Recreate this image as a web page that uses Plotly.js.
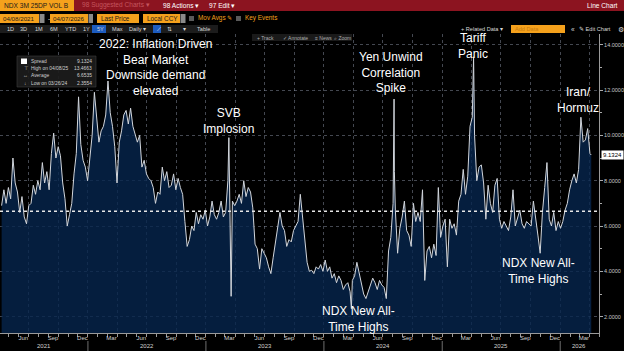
<!DOCTYPE html>
<html><head><meta charset="utf-8">
<script src="https://cdn.plot.ly/plotly-3.0.1.min.js"></script>
<style>html,body{margin:0;padding:0;background:#000;overflow:hidden}#chart{width:624px;height:351px}</style>
</head><body><div id="chart"></div>
<script>
// ---------------- DATA ----------------
const dates = [
'2021-04-09','2021-04-16','2021-04-23','2021-04-30','2021-05-07','2021-05-14','2021-05-21','2021-05-28',
'2021-06-04','2021-06-11','2021-06-18','2021-06-25','2021-07-02','2021-07-09','2021-07-16','2021-07-23','2021-07-30',
'2021-08-06','2021-08-13','2021-08-20','2021-08-27','2021-09-03','2021-09-10','2021-09-17','2021-09-24',
'2021-10-01','2021-10-08','2021-10-15','2021-10-22','2021-10-29','2021-11-05','2021-11-12','2021-11-19','2021-11-26',
'2021-12-03','2021-12-10','2021-12-17','2021-12-24','2021-12-31',
'2022-01-07','2022-01-14','2022-01-21','2022-01-28','2022-02-04','2022-02-11','2022-02-18','2022-02-25',
'2022-03-04','2022-03-11','2022-03-18','2022-03-25','2022-04-01','2022-04-08','2022-04-15','2022-04-22','2022-04-29',
'2022-05-06','2022-05-13','2022-05-20','2022-05-27','2022-06-03','2022-06-10','2022-06-17','2022-06-24',
'2022-07-01','2022-07-08','2022-07-15','2022-07-22','2022-07-29','2022-08-05','2022-08-12','2022-08-19','2022-08-26',
'2022-09-02','2022-09-09','2022-09-16','2022-09-23','2022-09-30','2022-10-07','2022-10-14','2022-10-21','2022-10-28',
'2022-11-04','2022-11-11','2022-11-18','2022-11-25','2022-12-02','2022-12-09','2022-12-16','2022-12-23','2022-12-30',
'2023-01-06','2023-01-13','2023-01-20','2023-01-27','2023-02-03','2023-02-10','2023-02-17','2023-02-24',
'2023-03-03','2023-03-10','2023-03-13','2023-03-17','2023-03-20','2023-03-24','2023-03-31',
'2023-04-07','2023-04-14','2023-04-21','2023-04-28','2023-05-05','2023-05-12','2023-05-19','2023-05-26',
'2023-06-02','2023-06-09','2023-06-16','2023-06-23','2023-06-30','2023-07-07','2023-07-14','2023-07-21','2023-07-28',
'2023-08-04','2023-08-11','2023-08-18','2023-08-25','2023-09-01','2023-09-08','2023-09-15','2023-09-22','2023-09-29',
'2023-10-06','2023-10-13','2023-10-20','2023-10-27','2023-11-03','2023-11-10','2023-11-17','2023-11-24',
'2023-12-01','2023-12-08','2023-12-15','2023-12-22','2023-12-29',
'2024-01-05','2024-01-12','2024-01-19','2024-01-26','2024-02-02','2024-02-09','2024-02-16','2024-02-23',
'2024-03-01','2024-03-08','2024-03-15','2024-03-22','2024-03-26','2024-03-29','2024-04-05','2024-04-12','2024-04-19','2024-04-26',
'2024-05-03','2024-05-10','2024-05-17','2024-05-24','2024-05-31','2024-06-07','2024-06-14','2024-06-21','2024-06-28',
'2024-07-05','2024-07-12','2024-07-19','2024-07-26','2024-08-02','2024-08-05','2024-08-06','2024-08-09','2024-08-16','2024-08-23','2024-08-30',
'2024-09-06','2024-09-13','2024-09-20','2024-09-27','2024-10-04','2024-10-11','2024-10-18','2024-10-25',
'2024-11-01','2024-11-08','2024-11-15','2024-11-22','2024-11-29','2024-12-06','2024-12-13','2024-12-20','2024-12-27',
'2025-01-03','2025-01-10','2025-01-17','2025-01-24','2025-01-31','2025-02-07','2025-02-14','2025-02-21','2025-02-28',
'2025-03-07','2025-03-14','2025-03-21','2025-03-28','2025-04-04','2025-04-08','2025-04-11','2025-04-18','2025-04-25',
'2025-05-02','2025-05-09','2025-05-16','2025-05-23','2025-05-30','2025-06-06','2025-06-13','2025-06-20','2025-06-27',
'2025-07-04','2025-07-11','2025-07-18','2025-07-25','2025-08-01','2025-08-08','2025-08-15','2025-08-22','2025-08-29',
'2025-09-05','2025-09-12','2025-09-19','2025-09-26','2025-10-03','2025-10-10','2025-10-17','2025-10-24','2025-10-31',
'2025-11-07','2025-11-14','2025-11-21','2025-11-28','2025-12-05','2025-12-12','2025-12-19','2025-12-26',
'2026-01-02','2026-01-09','2026-01-16','2026-01-23','2026-01-30','2026-02-06','2026-02-13','2026-02-20','2026-02-27',
'2026-03-06','2026-03-13','2026-03-20','2026-03-27','2026-04-03','2026-04-07'
];
const spread = [
6.9,7.6,7.0,7.7,7.2,9.0,7.9,7.5,
6.6,7.3,6.4,6.1,6.9,7.0,7.8,7.4,8.0,
7.6,8.8,7.9,8.4,7.6,9.2,10.1,9.0,
9.5,9.1,7.9,7.2,6.0,6.5,7.0,8.3,9.2,
11.7,9.6,8.9,8.6,8.0,
9.1,10.0,11.9,10.6,9.7,10.2,10.4,10.9,
12.4,11.0,10.4,9.5,7.9,9.7,10.2,10.9,11.1,
10.5,11.2,10.4,10.0,9.7,10.0,8.6,8.9,
8.3,8.1,8.0,7.7,7.0,7.5,7.4,8.6,8.0,
8.4,7.7,7.8,8.3,7.6,8.1,7.7,7.4,6.2,
5.1,5.4,6.0,5.8,6.6,6.1,6.5,6.3,6.7,
6.0,6.4,7.1,6.5,6.3,6.6,7.1,6.4,
6.6,8.0,9.9,6.5,2.9,7.1,6.9,
7.1,7.4,7.0,8.0,7.3,7.7,7.5,6.8,
5.2,5.0,4.1,5.0,4.8,4.6,4.2,3.9,4.6,
5.3,5.8,6.6,6.0,5.8,5.1,5.4,5.3,5.8,
6.0,6.2,7.4,6.3,5.3,4.4,4.0,4.05,
3.9,4.2,4.1,4.3,4.0,
4.5,4.0,4.2,3.7,3.9,3.5,3.8,3.6,
3.2,3.4,3.5,3.1,2.3554,3.6,3.8,4.4,3.9,3.5,
3.0,2.8,3.1,3.3,3.7,3.5,3.2,3.6,3.4,
3.3,2.8,4.9,5.5,7.0,11.6,8.4,6.7,4.8,5.9,6.4,
7.1,5.8,5.6,5.1,7.0,6.2,6.6,6.2,
7.6,3.6,4.9,5.1,4.6,5.2,4.7,7.7,5.5,
6.0,6.3,4.2,6.3,5.9,6.1,5.6,7.1,7.4,
8.5,7.4,8.2,10.4,10.8,13.4663,10.0,8.0,8.6,
8.7,7.9,6.3,7.8,7.0,6.6,7.8,8.1,6.3,
5.9,6.2,6.0,5.8,6.4,7.6,6.0,6.3,6.7,
6.1,5.9,6.2,6.1,6.0,7.1,6.2,5.6,4.8,
6.6,7.7,8.8,6.3,6.0,6.6,5.8,6.2,
5.9,6.2,6.7,7.0,7.6,8.0,8.3,7.9,8.5,
10.8,9.7,9.8,10.3,9.2,9.1324
];
const seriesName = 'Spread';
const lastValue = 9.1324;
const averageValue = 6.6535;
const highValue = 13.4663, highDate = '04/08/25';
const lowValue = 2.3554, lowDate = '03/26/24';
const yTicks = [2,4,6,8,10,12,14];
const monthTickDates = ['2021-06-15','2021-09-15','2021-12-15','2022-03-15','2022-06-15','2022-09-15','2022-12-15',
  '2023-03-15','2023-06-15','2023-09-15','2023-12-15','2024-03-15','2024-06-15','2024-09-15','2024-12-15',
  '2025-03-15','2025-06-15','2025-09-15','2025-12-15','2026-03-15'];
const monthTickText = ['Jun','Sep','Dec','Mar','Jun','Sep','Dec','Mar','Jun','Sep','Dec','Mar','Jun','Sep','Dec','Mar','Jun','Sep','Dec','Mar'];
const quarterStarts = ['2021-07-01','2021-10-01','2022-01-01','2022-04-01','2022-07-01','2022-10-01','2023-01-01',
  '2023-04-01','2023-07-01','2023-10-01','2024-01-01','2024-04-01','2024-07-01','2024-10-01','2025-01-01',
  '2025-04-01','2025-07-01','2025-10-01','2026-01-01','2026-04-01'];
const yearLabels = ['2021','2022','2023','2024','2025','2026'];
const yearStarts = ['2022-01-01','2023-01-01','2024-01-01','2025-01-01','2026-01-01'];
const xRange = ['2021-04-04','2026-05-01'];
const yRange = [1.281, 14.472];

// ---------------- LAYOUT HELPERS ----------------
const W = 599, T = 34, B = 333;
const F = 'Liberation Sans, Arial, sans-serif';
const px = x => x / W;
const py = y => (B - y) / (B - T);
const shapes = [], annos = [];
function rect(x0, y0, x1, y1, fill, line) {
  shapes.push({type:'rect', xref:'paper', yref:'paper', x0:px(x0), x1:px(x1), y0:py(y1), y1:py(y0),
    fillcolor:fill, line: line ? {color:line, width:0.6} : {width:0}, layer:'above'});
}
function txt(x, y, text, size, color, anchor, extra) {
  annos.push(Object.assign({xref:'paper', yref:'paper', x:px(x), y:py(y), text:text, showarrow:false,
    xanchor:anchor || 'left', yanchor:'middle', font:{family:F, size:size, color:color}}, extra || {}));
}

// toolbar row 1
rect(0, 0, 624, 11, '#8c1420');
rect(0, 0, 74, 11, '#f5a11c');
txt(1.5, 5.5, 'NDX 3M 25DP VOL B', 6.6, '#1a1a1a');
txt(80, 5.5, '98 Suggested Charts ▾', 6.6, '#c4545e');
txt(161, 5.5, '98 Actions ▾', 6.6, '#ffffff');
txt(207, 5.5, '97 Edit ▾', 6.6, '#ffffff');
txt(620, 5.5, 'Line Chart', 6.6, '#ffffff', 'right');
// toolbar row 2
rect(0, 14, 39, 23, '#f5a11c'); rect(39.5, 14, 44.5, 23, '#8a8a8a');
txt(1, 18.5, '04/08/2021', 6.2, '#1a1a1a');
txt(46, 18.5, '-', 6.5, '#dddddd');
rect(50, 14, 88, 23, '#f5a11c'); rect(88.5, 14, 93, 23, '#8a8a8a');
txt(51, 18.5, '04/07/2026', 6.2, '#1a1a1a');
rect(97, 14, 139, 23, '#f5a11c'); txt(99, 18.5, 'Last Price', 6.4, '#1a1a1a');
rect(143, 14, 180, 23, '#f5a11c'); txt(145, 18.5, 'Local CCY', 6.4, '#1a1a1a');
rect(180.5, 14, 185.5, 23, '#8a8a8a');
rect(189, 16, 194, 21, '#5a5a5a'); txt(196, 18.5, 'Mov Avgs ✎', 6.4, '#f5a11c');
rect(236, 16, 241, 21, '#5a5a5a'); txt(243, 18.5, 'Key Events', 6.4, '#f5a11c');
// toolbar row 3
rect(0, 25, 218, 33, '#1c1c1c');
rect(92, 25, 106, 33, '#1d5cc0');
rect(153, 25, 161, 33, '#1d5cc0');
[['1D',5],['3D',18],['1M',33],['6M',48],['YTD',63],['1Y',81],['5Y',95],['Max',110],['Daily ▾',127],['⇅',165],['▾',181],['Table',195]]
  .forEach(d => txt(d[1], 29, d[0], 5.6, '#d8d8d8'));
txt(154.5, 29, '⟋', 5.6, '#ffffff');
txt(459, 29, '+ Related Data ▾', 5.6, '#d8d8d8');
rect(511, 25, 565, 33, '#f5a11c'); txt(513, 29, 'Add Data', 5.6, '#c87c10');
txt(569, 29, '«', 6.5, '#d8d8d8');
txt(577, 29, '✎ Edit Chart', 5.6, '#d8d8d8');
txt(616, 29, '⚙', 7, '#d8d8d8');
// toolbar row 4 (over plot)
rect(252, 34, 352, 41, '#1a1a1a');
txt(255, 37.5, '+ Track', 5, '#b0b0b0');
txt(281, 37.5, '✓ Annotate', 5, '#b0b0b0');
txt(313, 37.5, '≡ News', 5, '#b0b0b0');
txt(332, 37.5, '⌕ Zoom', 5, '#b0b0b0');

// legend box
rect(17, 56, 96, 87, 'rgba(28,28,28,0.92)', '#3c3c3c');
rect(21, 58.5, 27, 64, '#ffffff');
const LF = 4.9;
txt(29, 61, seriesName, LF, '#d0d0d0');
txt(94, 61, lastValue.toFixed(4), LF, '#d0d0d0', 'right');
txt(21.5, 68, '⊤', LF, '#d0d0d0');
txt(29, 68, 'High on ' + highDate, LF, '#d0d0d0');
txt(94, 68, highValue.toFixed(4), LF, '#d0d0d0', 'right');
txt(20.5, 75.5, '↔', LF, '#d0d0d0');
txt(29, 75.5, 'Average', LF, '#d0d0d0');
txt(94, 75.5, averageValue.toFixed(4), LF, '#d0d0d0', 'right');
txt(21.5, 83, '↓', LF, '#d0d0d0');
txt(29, 83, 'Low on ' + lowDate, LF, '#d0d0d0');
txt(94, 83, lowValue.toFixed(4), LF, '#d0d0d0', 'right');

// event labels
const ev = (x, y, t) => txt(x, y, t, 12, '#ffffff', 'center');
ev(155, 67.5, '2022: Inflation Driven<br>Bear Market<br>Downside demand<br>elevated');
ev(228, 120.5, 'SVB<br>Implosion');
ev(391, 72.5, 'Yen Unwind<br>Correlation<br>Spike');
ev(473, 46, 'Tariff<br>Panic');
ev(578, 100, 'Iran/<br>Hormuz');
ev(358, 319, 'NDX New All-<br>Time Highs');
ev(538, 270.5, 'NDX New All-<br>Time Highs');

// last value tag
annos.push({xref:'paper', yref:'y', x:px(601), y:lastValue, text:lastValue.toFixed(4), showarrow:false,
  xanchor:'left', yanchor:'middle', bgcolor:'#ffffff', borderpad:1,
  font:{family:F, size:6, color:'#000000'}});

// average line
shapes.push({type:'line', xref:'paper', yref:'y', x0:0, x1:px(597), y0:averageValue, y1:averageValue,
  line:{color:'#e6e6e6', width:1.5, dash:'dot'}, layer:'above'});

// year separators & labels
yearStarts.forEach(d => shapes.push({type:'line', xref:'x', yref:'paper', x0:d, x1:d, y0:py(341), y1:py(351),
  line:{color:'#8a8a8a', width:0.8}}));
const t0 = new Date(xRange[0]).getTime();
yearLabels.forEach(yl => {
  const a = Math.max(new Date(yl + '-01-01').getTime(), t0);
  const b = Math.min(new Date((+yl + 1) + '-01-01').getTime(), new Date('2026-04-30').getTime());
  const mid = new Date((a + b) / 2).toISOString().slice(0, 10);
  annos.push({xref:'x', yref:'paper', x:mid, y:py(345.5), text:yl, showarrow:false, xanchor:'center', yanchor:'middle',
    font:{family:F, size:6, color:'#d0d0d0'}});
});

const gridC = 'rgba(150,160,180,0.45)';
const data = [
  {type:'scatter', mode:'lines', x:dates, y:spread, name:seriesName,
   line:{color:'#d2d6dc', width:1}, fill:'tozeroy', fillcolor:'rgba(6,38,78,0.8)', hoverinfo:'skip'},
  {type:'scatter', mode:'lines', x:[], y:[], xaxis:'x2', yaxis:'y', showlegend:false, hoverinfo:'skip'}
];
const layout = {
  width:624, height:351, margin:{l:0, r:25, t:T, b:351 - B},
  paper_bgcolor:'#000000', plot_bgcolor:'#000000', showlegend:false,
  xaxis:{type:'date', range:xRange, tickmode:'array', tickvals:quarterStarts, showticklabels:false, ticks:'',
    showgrid:true, gridcolor:gridC, griddash:'dot', gridwidth:1, zeroline:false,
    showline:true, linecolor:'#9a9a9a', linewidth:1,
    minor:{tickmode:'linear', tick0:'2021-05-01', dtick:'M1', ticks:'outside', ticklen:2.5, tickcolor:'#9a9a9a', showgrid:false}},
  xaxis2:{type:'date', range:xRange, overlaying:'x', anchor:'y', side:'bottom', tickmode:'array',
    tickvals:monthTickDates, ticktext:monthTickText, ticks:'', showgrid:false, showline:false, zeroline:false,
    tickfont:{family:F, size:6, color:'#d0d0d0'}},
  yaxis:{range:yRange, side:'right', tickmode:'array', tickvals:yTicks, tickformat:'.4f',
    ticks:'outside', ticklen:3, tickcolor:'#aaaaaa', showgrid:true, gridcolor:gridC, griddash:'dot', gridwidth:1,
    zeroline:false, showline:true, linecolor:'#9a9a9a', linewidth:1,
    tickfont:{family:F, size:5.5, color:'#c8c8c8'},
    minor:{tickmode:'linear', tick0:1, dtick:1, ticks:'outside', ticklen:2, tickcolor:'#aaaaaa', showgrid:false}},
  shapes:shapes, annotations:annos
};
Plotly.newPlot('chart', data, layout, {staticPlot:true, displayModeBar:false});
</script></body></html>
